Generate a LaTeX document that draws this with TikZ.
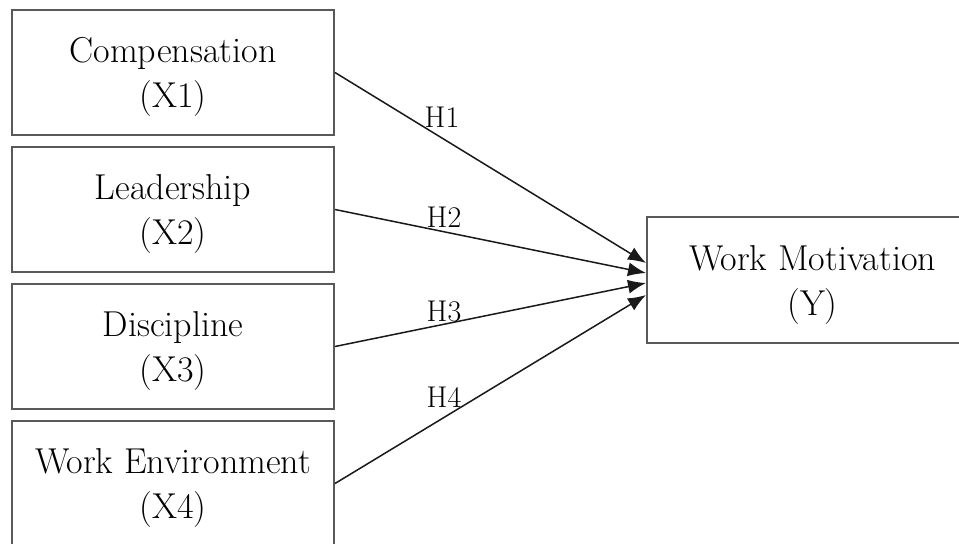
\documentclass[tikz,border=0pt]{standalone}
\usetikzlibrary{positioning,arrows.meta}
\tikzset{
  var/.style={draw=black!65,line width=1pt,minimum width=161pt,minimum height=62.5pt,
    align=center,inner sep=0pt,text depth=0pt,font=\fontsize{18}{22.5}\selectfont},
  hyp/.style={inner sep=0pt,font=\fontsize{15}{18}\selectfont},
  link/.style={-{Latex[length=9pt,width=7pt]},line width=0.75pt,black!90}
}
\begin{document}
\begin{tikzpicture}[x=0.5pt,y=-0.5pt]
\useasboundingbox (0,0) rectangle (959,543);
\clip (0,0) rectangle (959,543);
% predictors
\node[var] (x1) at (173,72.5) {Compensation\\(X1)};
\node[var,below=5pt of x1] (x2) {Leadership\\(X2)};
\node[var,below=5pt of x2] (x3) {Discipline\\(X3)};
\node[var,below=5pt of x3] (x4) {Work Environment\\(X4)};
% outcome
\node[var,minimum width=165.5pt,minimum height=63pt] (y) at (812.5,280) {Work Motivation\\(Y)};
% hypotheses
\draw[link](x1.east)--([yshift=8.5pt]y.west);
\draw[link](x2.east)--([yshift=3.5pt]y.west);
\draw[link](x3.east)--([yshift=-1.5pt]y.west);
\draw[link](x4.east)--([yshift=-7.5pt]y.west);
\node[hyp] (h1) at (442,117) {H1};
\node[hyp] (h2) at (444,217) {H2};
\node[hyp] (h3) at (444,311) {H3};
\node[hyp] (h4) at (444,397) {H4};
\end{tikzpicture}
\end{document}
